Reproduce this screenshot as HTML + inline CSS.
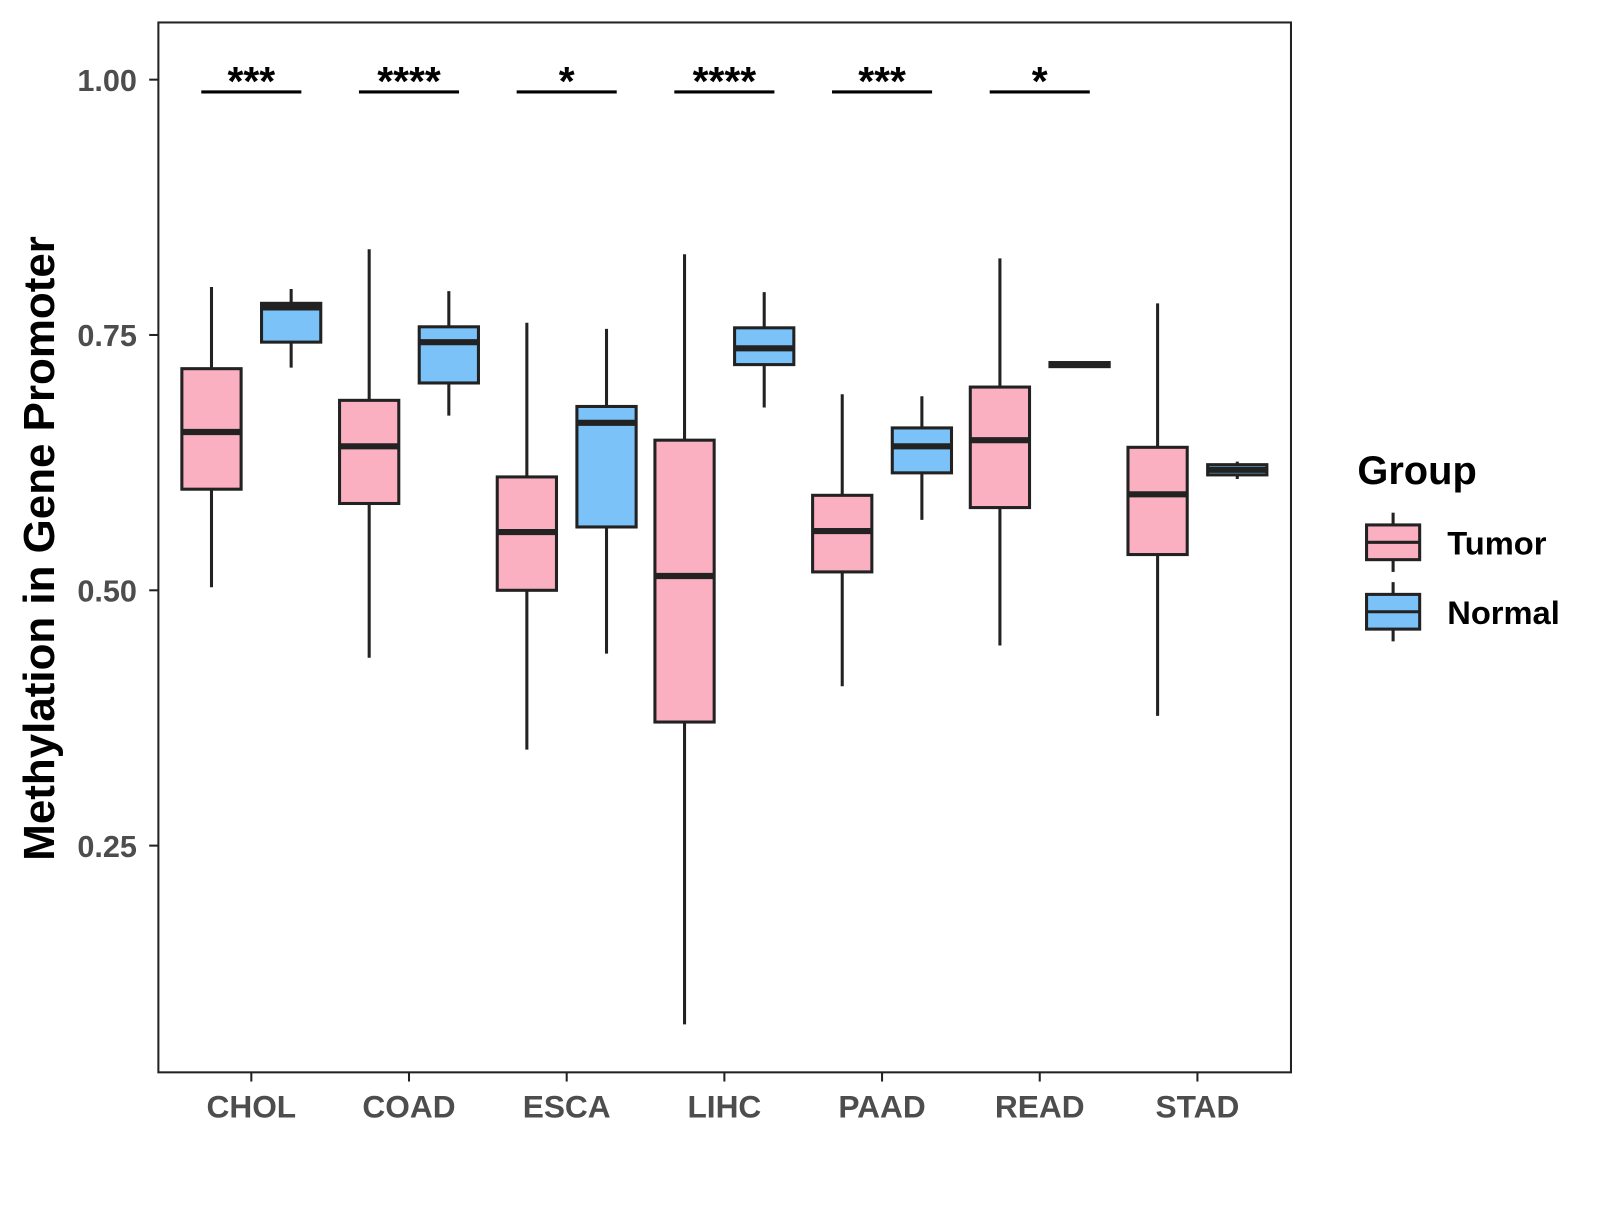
<!DOCTYPE html>
<html><head><meta charset="utf-8"><style>
body{margin:0;background:#fff;width:1600px;height:1200px;overflow:hidden}
svg text{font-family:"Liberation Sans",Arial,sans-serif;font-weight:bold}
</style></head><body>
<svg id="chart" width="1600" height="1200" viewBox="0 0 1566.5 1175" xmlns="http://www.w3.org/2000/svg">
<rect x="155" y="22" width="1109" height="1028" fill="#fff" stroke="#222" stroke-width="2"/>
<g id="yaxis"></g>
<g id="xaxis"></g>
<g id="marks"></g>
<g id="sig"></g>
<text transform="translate(53,537) rotate(-90)" text-anchor="middle" font-size="43" fill="#000">Methylation in Gene Promoter</text>
<g>
<text x="1329" y="474" font-size="39" fill="#000">Group</text>
<g>
<line x1="1364" y1="502" x2="1364" y2="560" stroke="#222" stroke-width="3"/>
<rect x="1338" y="514" width="52" height="34" fill="#FBB0C1" stroke="#222" stroke-width="3"/>
<line x1="1338" y1="531" x2="1390" y2="531" stroke="#222" stroke-width="3"/>
<text x="1417" y="543" font-size="32" fill="#000">Tumor</text></g>
<g>
<line x1="1364" y1="570" x2="1364" y2="628" stroke="#222" stroke-width="3"/>
<rect x="1338" y="582" width="52" height="34" fill="#7AC2F7" stroke="#222" stroke-width="3"/>
<line x1="1338" y1="599" x2="1390" y2="599" stroke="#222" stroke-width="3"/>
<text x="1417" y="611" font-size="32" fill="#000">Normal</text></g>
</g>
</svg>
<script>
const categories=["CHOL","COAD","ESCA","LIHC","PAAD","READ","STAD"];
// [min, q1, median, q3, max]
const tumorStats=[[0.503,0.599,0.655,0.717,0.797],[0.434,0.585,0.641,0.686,0.834],[0.344,0.500,0.557,0.611,0.762],[0.075,0.371,0.514,0.647,0.829],[0.406,0.518,0.558,0.593,0.692],[0.446,0.581,0.647,0.699,0.825],[0.377,0.535,0.594,0.640,0.781]];
const normalStats=[[0.718,0.743,0.777,0.781,0.795],[0.671,0.703,0.743,0.758,0.793],[0.438,0.562,0.664,0.680,0.756],[0.679,0.721,0.737,0.757,0.792],[0.569,0.615,0.641,0.659,0.690],[0.719,0.719,0.721,0.723,0.723],[0.609,0.613,0.618,0.623,0.626]];
const sigLabels=["***","****","*","****","***","*"];
const yTicks=[0.25,0.50,0.75,1.00];
const yTickLabels=["0.25","0.50","0.75","1.00"];
const sigLevel=0.988;
const NS="http://www.w3.org/2000/svg";
const y=v=>78+(1-v)*1000;
const x=i=>246+i*154.4;
function mk(tag,attrs,parent){const e=document.createElementNS(NS,tag);for(const k in attrs)e.setAttribute(k,attrs[k]);parent.appendChild(e);return e;}
const ya=document.getElementById('yaxis'),xa=document.getElementById('xaxis'),mg=document.getElementById('marks'),sg=document.getElementById('sig');
yTicks.forEach((t,i)=>{
 const l=mk('line',{x1:146,x2:155,y1:y(t),y2:y(t),stroke:'#222','stroke-width':2},ya);
 
 
 const tx=mk('text',{x:134,y:y(t)+11,'text-anchor':'end','font-size':30,fill:'#4d4d4d'},ya);
 tx.textContent=yTickLabels[i];
 
 
});
categories.forEach((c,i)=>{
 const l=mk('line',{x1:x(i),x2:x(i),y1:1050,y2:1059,stroke:'#222','stroke-width':2},xa);
 
 
 const tx=mk('text',{x:x(i),y:1094,'text-anchor':'middle','font-size':31,fill:'#4d4d4d'},xa);
 tx.textContent=c;
 
 
});
function box(cx,s,fill,name){
 const g=mk('g',{},mg);
 
 
 mk('line',{x1:cx,x2:cx,y1:y(s[4]),y2:y(s[0]),stroke:'#222','stroke-width':3},g);
 mk('rect',{x:cx-29,y:y(s[3]),width:58,height:Math.max(y(s[1])-y(s[3]),1),fill:fill,stroke:'#222','stroke-width':3},g);
 mk('line',{x1:cx-29,x2:cx+29,y1:y(s[2]),y2:y(s[2]),stroke:'#222','stroke-width':6},g);
}
categories.forEach((c,i)=>{
 box(x(i)-39,tumorStats[i],'#FBB0C1','box-tumor-'+c.toLowerCase());
 box(x(i)+39,normalStats[i],'#7AC2F7','box-normal-'+c.toLowerCase());
});
sigLabels.forEach((s,i)=>{
 const l=mk('line',{x1:x(i)-49,x2:x(i)+49,y1:y(sigLevel),y2:y(sigLevel),stroke:'#000','stroke-width':3},sg);
 
 
 const t=mk('text',{x:x(i),y:y(sigLevel)+3,'text-anchor':'middle','font-size':40,fill:'#000'},sg);
 t.textContent=s;
 
 
});
</script>
</body></html>
